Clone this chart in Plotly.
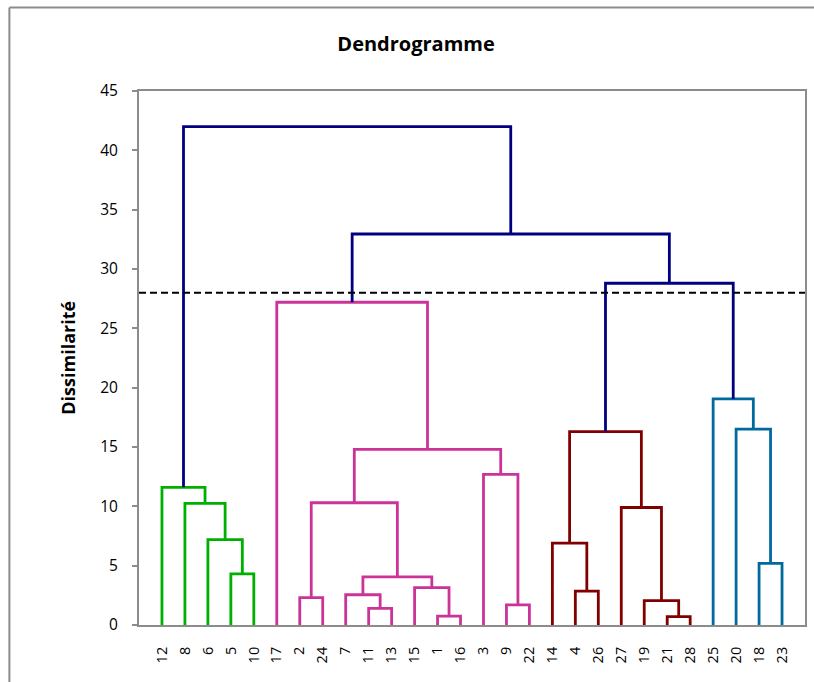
import plotly.graph_objects as go

# ---------------- data ----------------
leaf_labels = [12, 8, 6, 5, 10, 17, 2, 24, 7, 11, 13, 15, 1, 16, 3, 9, 22,
               14, 4, 26, 27, 19, 21, 28, 25, 20, 18, 23]

# merges: (node name, left child, right child, height, cluster group)
merge_nodes = ["G1", "G2", "G3", "G4",
               "P1", "P2", "P3", "P4", "P5", "P6", "P7", "P8", "P9", "P10", "P11",
               "M1", "M2", "M3", "M4", "M5", "M6",
               "B1", "B2", "B3",
               "N1", "N2", "N3"]
merge_left = [5, 6, 8, 12,
              1, 11, 9, 2, 7, 15, "P5", "P4", 3, "P8", 17,
              21, 19, 4, 14, 27, "M4",
              18, 20, 25,
              "M6", "P11", "G4"]
merge_right = [10, "G1", "G2", "G3",
               16, 13, 22, 24, "P2", "P1", "P6", "P7", "P3", "P9", "P10",
               28, "M1", 26, "M3", "M2", "M5",
               23, "B1", "B2",
               "B3", "N1", "N2"]
merge_height = [4.3, 7.2, 10.25, 11.6,
                0.75, 1.4, 1.7, 2.3, 2.55, 3.15, 4.05, 10.3, 12.7, 14.8, 27.2,
                0.7, 2.05, 2.85, 6.9, 9.9, 16.3,
                5.2, 16.5, 19.05,
                28.8, 32.95, 42.0]
merge_group = ["green"] * 4 + ["pink"] * 11 + ["maroon"] * 6 + ["blue"] * 3 + ["navy"] * 3

cut_height = 28.0

group_colors = {"green": "#00B000", "pink": "#CC3399", "maroon": "#800000",
                "blue": "#006A9E", "navy": "#000080"}

# ---------------- build dendrogram geometry ----------------
pos = {lab: i + 1 for i, lab in enumerate(leaf_labels)}
hgt = {lab: 0.0 for lab in leaf_labels}
segs = {g: ([], []) for g in group_colors}
for name, a, b, h, g in zip(merge_nodes, merge_left, merge_right, merge_height, merge_group):
    xa, xb = pos[a], pos[b]
    xs, ys = segs[g]
    xs += [xa, xa, xb, xb, None]
    ys += [hgt[a], h, h, hgt[b], None]
    pos[name] = (xa + xb) / 2
    hgt[name] = h

fig = go.Figure()
for g, (xs, ys) in segs.items():
    fig.add_trace(go.Scatter(x=xs, y=ys, mode="lines",
                             line=dict(color=group_colors[g], width=2.8),
                             hoverinfo="skip", showlegend=False))

n = len(leaf_labels)
fig.add_trace(go.Scatter(x=[0, n + 1], y=[cut_height, cut_height], mode="lines",
                         line=dict(color="black", width=2, dash="7px,4px"),
                         hoverinfo="skip", showlegend=False))

font_family = "Open Sans, Noto Sans, sans-serif"

# outer chart-area frame (only left and top edges are inside the picture)
fx0, fy1 = (9 - 139) / 668, (625 - 7.5) / 534
fx1, fy0 = (830 - 139) / 668, (625 - 700) / 534
frame = [dict(type="line", xref="paper", yref="paper", x0=fx0, x1=fx0, y0=fy0, y1=fy1,
              line=dict(color="#8C8C8C", width=2), layer="below"),
         dict(type="line", xref="paper", yref="paper", x0=fx0, x1=fx1, y0=fy1, y1=fy1,
              line=dict(color="#8C8C8C", width=2), layer="below")]

fig.update_layout(
    width=814, height=682,
    margin=dict(l=139, r=7, t=91, b=57),
    paper_bgcolor="white", plot_bgcolor="white",
    title=dict(text="<b>Dendrogramme</b>", x=0.416, xref="paper", xanchor="center",
               y=1 - 44 / 682, yref="container", yanchor="middle",
               font=dict(family=font_family, size=20, color="black")),
    xaxis=dict(range=[0, n + 1], tickmode="array",
               tickvals=list(range(1, n + 1)), ticktext=[str(v) for v in leaf_labels],
               tickangle=-90, ticks="", showgrid=False, zeroline=False,
               showline=True, linecolor="#8C8C8C", linewidth=2, mirror=True,
               ticklabelstandoff=14,
               tickfont=dict(family=font_family, size=14.5, color="black")),
    yaxis=dict(range=[0, 45], tickmode="linear", tick0=0, dtick=5,
               ticks="outside", ticklen=5, tickcolor="#8C8C8C", tickwidth=1.5,
               showgrid=False, zeroline=False,
               showline=True, linecolor="#8C8C8C", linewidth=2, mirror=True,
               ticklabelstandoff=11,
               tickfont=dict(family=font_family, size=15.5, color="black")),
    annotations=[dict(text="<b>Dissimilarité</b>", textangle=-90,
                      xref="paper", yref="paper", x=(67.5 - 139) / 668, y=0.5,
                      xanchor="center", yanchor="middle", showarrow=False,
                      font=dict(family=font_family, size=18, color="black"))],
    shapes=frame,
)

fig.write_html("out.html", config={"displayModeBar": False},
               post_script=("document.body.style.margin='0';"
                            "document.body.style.overflow='hidden';"
                            "document.documentElement.style.overflow='hidden';"))
